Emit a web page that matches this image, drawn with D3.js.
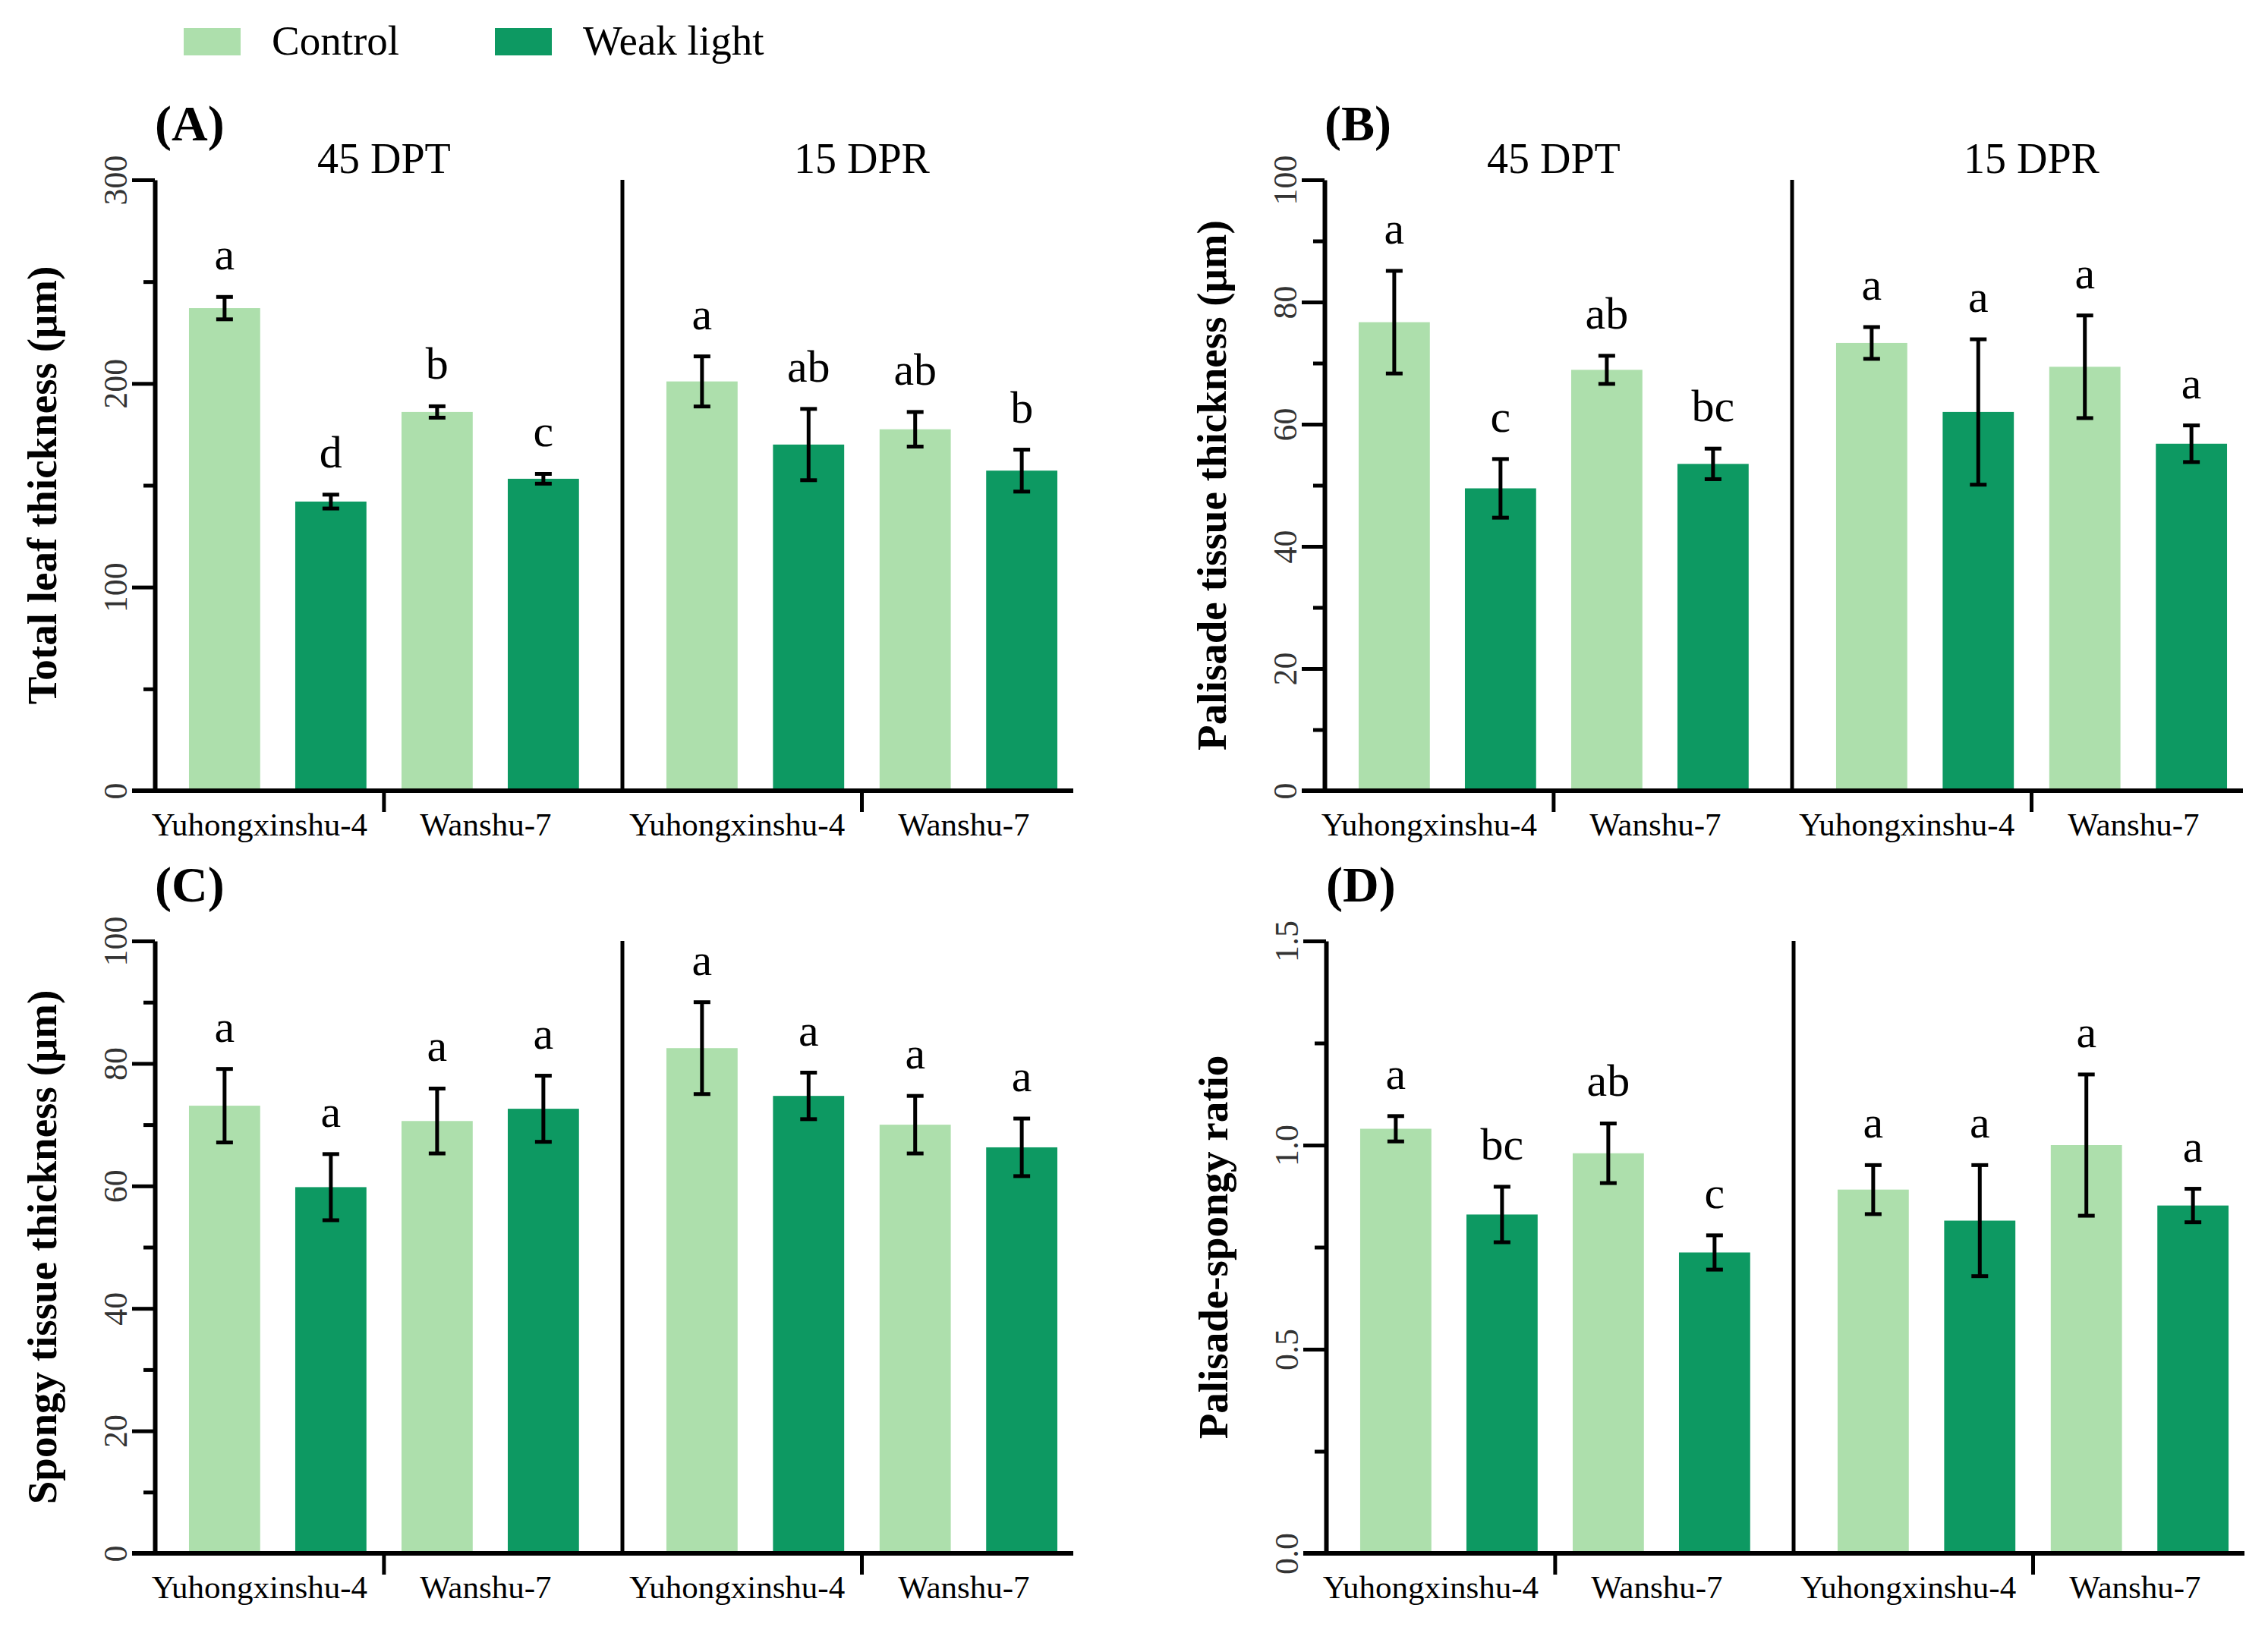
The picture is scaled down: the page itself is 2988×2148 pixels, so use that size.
<!DOCTYPE html>
<html>
<head>
<meta charset="utf-8">
<script src="https://cdn.jsdelivr.net/npm/d3@7"></script>
<style>
  body { margin: 0; background: #fff; }
  text { font-family: "Liberation Serif", "Times New Roman", serif; fill: #000; }
</style>
</head>
<body>
<svg id="fig" width="2988" height="2148"></svg>
<script>
// ----- data -----
const periods = ["45 DPT", "15 DPR"];
const cultivars = ["Yuhongxinshu-4", "Wanshu-7"];
const treatments = ["Control", "Weak light"];
const fills = ["#addfac", "#0d9962"];

// bar order in each period: Yuhongxinshu-4 Control, Yuhongxinshu-4 Weak, Wanshu-7 Control, Wanshu-7 Weak
const totalMean = [237, 142, 186, 153.2, 201, 170, 177.5, 157.2];
const totalErr = [5.5, 3.4, 2.8, 2.4, 12.3, 17.5, 8.5, 10.3];
const totalLetters = ["a", "d", "b", "c", "a", "ab", "ab", "b"];

const palisadeMean = [76.7, 49.5, 68.9, 53.5, 73.3, 62.0, 69.4, 56.8];
const palisadeErr = [8.4, 4.8, 2.3, 2.5, 2.6, 11.9, 8.4, 3.0];
const palisadeLetters = ["a", "c", "ab", "bc", "a", "a", "a", "a"];

const spongyMean = [73.1, 59.8, 70.6, 72.6, 82.5, 74.7, 70.0, 66.3];
const spongyErr = [6.0, 5.4, 5.3, 5.4, 7.5, 3.8, 4.7, 4.7];
const spongyLetters = ["a", "a", "a", "a", "a", "a", "a", "a"];

const ratioMean = [1.04, 0.83, 0.98, 0.737, 0.891, 0.815, 1.0, 0.852];
const ratioErr = [0.031, 0.068, 0.073, 0.042, 0.06, 0.136, 0.173, 0.041];
const ratioLetters = ["a", "bc", "ab", "c", "a", "a", "a", "a"];

const panels = [
  {tag: "(A)", title: "Total leaf thickness (\u03bcm)", mean: totalMean, err: totalErr, letters: totalLetters,
   max: 300, major: 100, minor: 50, fmt: d3.format("d"), ox: 204, top: 237, bottom: 1042, header: true},
  {tag: "(B)", title: "Palisade tissue thickness (\u03bcm)", mean: palisadeMean, err: palisadeErr, letters: palisadeLetters,
   max: 100, major: 20, minor: 10, fmt: d3.format("d"), ox: 1745, top: 237, bottom: 1042, header: true},
  {tag: "(C)", title: "Spongy tissue thickness (\u03bcm)", mean: spongyMean, err: spongyErr, letters: spongyLetters,
   max: 100, major: 20, minor: 10, fmt: d3.format("d"), ox: 204, top: 1240, bottom: 2047, header: false},
  {tag: "(D)", title: "Palisade-spongy ratio", mean: ratioMean, err: ratioErr, letters: ratioLetters,
   max: 1.5, major: 0.5, minor: 0.25, fmt: d3.format(".1f"), ox: 1747, top: 1240, bottom: 2047, header: false}
];

const svg = d3.select("#fig");
svg.append("rect").attr("width", 2988).attr("height", 2148).attr("fill", "#fff");

// legend
const legend = svg.append("g");
treatments.forEach((t, i) => {
  const lx = [242, 652][i];
  legend.append("rect").attr("x", lx).attr("y", 37).attr("width", 75).attr("height", 36).attr("fill", fills[i]);
  legend.append("text").attr("x", lx + 116).attr("y", 72).attr("font-size", 55).text(t);
});

function drawPanel(p) {
  const g = svg.append("g");
  const y = d3.scaleLinear().domain([0, p.max]).range([p.bottom, p.top]);
  const half1 = d3.scaleBand().domain(d3.range(4)).range([p.ox, p.ox + 616])
      .paddingInner(0.33).paddingOuter(0.365).align(0.44);
  const half2 = d3.scaleBand().domain(d3.range(4)).range([p.ox + 616, p.ox + 1210])
      .paddingInner(0.33).paddingOuter(0.28).align(0.737);
  const xs = [half1, half2];
  const bw = half1.bandwidth();

  const bars = p.mean.map((v, i) => ({v: v, e: p.err[i], l: p.letters[i], h: Math.floor(i / 4), k: i % 4, t: i % 2}));
  const cx = d => xs[d.h](d.k) + bw / 2;

  g.selectAll("rect.bar")
    .data(bars)
    .join("rect")
      .attr("class", "bar")
      .attr("x", d => xs[d.h](d.k))
      .attr("width", bw)
      .attr("y", d => y(d.v))
      .attr("height", d => y(0) - y(d.v))
      .attr("fill", d => fills[d.t]);

  // error bars
  const eb = g.selectAll("g.err").data(bars).join("g").attr("class", "err")
      .attr("stroke", "#000").attr("stroke-width", 5);
  eb.append("line").attr("x1", cx).attr("x2", cx).attr("y1", d => y(d.v - d.e)).attr("y2", d => y(d.v + d.e));
  eb.append("line").attr("x1", d => cx(d) - 11).attr("x2", d => cx(d) + 11).attr("y1", d => y(d.v + d.e)).attr("y2", d => y(d.v + d.e));
  eb.append("line").attr("x1", d => cx(d) - 11).attr("x2", d => cx(d) + 11).attr("y1", d => y(d.v - d.e)).attr("y2", d => y(d.v - d.e));

  // significance letters
  g.selectAll("text.sig").data(bars).join("text").attr("class", "sig")
    .attr("x", cx).attr("y", d => y(d.v + d.e) - 36)
    .attr("text-anchor", "middle").attr("font-size", 60).text(d => d.l);

  // y axis: major and minor ticks
  const yAxis = g.append("g").attr("transform", `translate(${p.ox},0)`)
    .call(d3.axisLeft(y).tickValues(d3.range(0, p.max + p.major / 2, p.major)).tickSize(30).tickSizeOuter(0).tickFormat(p.fmt))
    .attr("font-family", "Liberation Serif, serif");
  yAxis.select(".domain").attr("stroke-width", 6);
  yAxis.selectAll(".tick line").attr("stroke-width", 5);
  yAxis.selectAll(".tick text")
    .attr("transform", "rotate(-90)")
    .attr("x", 0).attr("y", -37).attr("dy", 0)
    .attr("text-anchor", "middle")
    .style("font-family", "'Liberation Serif', serif")
    .attr("font-size", 44).style("fill", "#333");

  const minorAxis = g.append("g").attr("transform", `translate(${p.ox},0)`)
    .call(d3.axisLeft(y).tickValues(d3.range(p.minor, p.max, p.major)).tickSize(15).tickFormat(""));
  minorAxis.select(".domain").remove();
  minorAxis.selectAll(".tick line").attr("stroke-width", 5);

  // x axis line
  g.append("line").attr("x1", p.ox - 30).attr("x2", half2.range()[1])
    .attr("y1", y(0)).attr("y2", y(0)).attr("stroke", "#000").attr("stroke-width", 6);

  // divider between periods
  g.append("line").attr("x1", half2.range()[0]).attr("x2", half2.range()[0])
    .attr("y1", y(p.max)).attr("y2", y(0)).attr("stroke", "#000").attr("stroke-width", 5);

  xs.forEach((xb, h) => {
    const gx = (xb(1) + bw + xb(2)) / 2;
    g.append("line").attr("x1", gx).attr("x2", gx).attr("y1", y(0)).attr("y2", y(0) + 28)
      .attr("stroke", "#000").attr("stroke-width", 5);
    if (p.header) {
      g.append("text").attr("x", gx).attr("y", p.top - 9).attr("text-anchor", "middle")
        .attr("font-size", 56).text(periods[h]);
    }
    cultivars.forEach((c, ci) => {
      const mid = (xb(2 * ci) + xb(2 * ci + 1) + bw) / 2 + [-24, -6][ci];
      g.append("text").attr("x", mid).attr("y", y(0) + 59).attr("text-anchor", "middle")
        .attr("font-size", 43).text(c);
    });
  });

  // panel tag
  g.append("text").attr("x", p.ox).attr("y", p.top - 52)
    .attr("font-size", 66).attr("font-weight", "bold").text(p.tag);

  // y title
  g.append("text")
    .attr("transform", `translate(${p.ox - 130},${(p.top + p.bottom) / 2}) rotate(-90)`)
    .attr("text-anchor", "middle").attr("font-size", 55).attr("font-weight", "bold").text(p.title);
}

panels.forEach(drawPanel);
</script>
</body>
</html>
